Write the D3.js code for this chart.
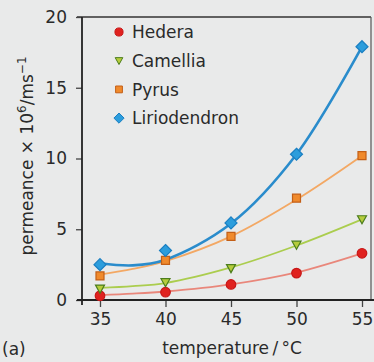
<!DOCTYPE html>
<html>
<head>
<meta charset="utf-8">
<script src="https://cdn.jsdelivr.net/npm/d3@7/dist/d3.min.js"></script>
<style>
  html, body { margin: 0; padding: 0; background: #e9eaea; }
  svg { display: block; }
  text { font-family: "DejaVu Sans", sans-serif; fill: #2a2a2a; }
</style>
</head>
<body>
<div id="chart"></div>
<script>
// measured points
var temps = [35, 40, 45, 50, 55];
var hedera = [0.3, 0.55, 1.1, 1.9, 3.3];
var camellia = [0.8, 1.25, 2.25, 3.9, 5.7];
var pyrus = [1.7, 2.8, 4.5, 7.2, 10.2];
var liriodendron = [2.5, 3.5, 5.45, 10.3, 17.9];

// fitted curves
var fitTemps = [35, 37.5, 40, 45, 50, 55];
var hederaFit = [0.35, 0.45, 0.6, 1.1, 1.95, 3.3];
var camelliaFit = [0.85, 0.98, 1.2, 2.3, 3.85, 5.7];
var pyrusFit = [1.8, 2.2, 2.75, 4.5, 7.1, 10.2];
var liriodendronFit = [2.6, 2.45, 2.85, 5.4, 10.3, 17.9];

var yTicks = [0, 5, 10, 15, 20];
var xTicks = [35, 40, 45, 50, 55];

var series = [
  { name: 'Hedera', values: hedera, fit: hederaFit, symbol: 'circle', fill: '#e0221f', stroke: '#c81818', line: '#e9877b', lw: 1.8 },
  { name: 'Camellia', values: camellia, fit: camelliaFit, symbol: 'tri', fill: '#b6cc3c', stroke: '#4b7d1c', line: '#abcd4e', lw: 1.8 },
  { name: 'Pyrus', values: pyrus, fit: pyrusFit, symbol: 'square', fill: '#f08a2c', stroke: '#c35f17', line: '#f3a864', lw: 1.8 },
  { name: 'Liriodendron', values: liriodendron, fit: liriodendronFit, symbol: 'diamond', fill: '#2c9ddc', stroke: '#1a7fc2', line: '#2a8ccc', lw: 2.6 }
];

var W = 374, H = 362;
var svg = d3.select('#chart').append('svg').attr('width', W).attr('height', H);

var x = d3.scaleLinear().domain([35, 55]).range([100, 362]);
var y = d3.scaleLinear().domain([0, 20]).range([300, 17]);
var left = 82, right = 371;

function symbolPath(kind, k) {
  k = k || 1;
  if (kind === 'circle') return d3.symbol(d3.symbolCircle, 72 * k * k)();
  if (kind === 'square') return d3.symbol(d3.symbolSquare, 64 * k * k)();
  if (kind === 'diamond') { var a = 6 * k; return 'M0,' + (-a) + 'L' + a + ',0L0,' + a + 'L' + (-a) + ',0Z'; }
  var t = 4.5 * k;
  return 'M' + (-t) + ',' + (-t * 0.8) + 'L' + t + ',' + (-t * 0.8) + 'L0,' + t + 'Z';
}

// frame
svg.append('line').attr('x1', 77).attr('x2', right).attr('y1', y(20)).attr('y2', y(20))
  .attr('stroke', '#333').attr('stroke-width', 1.5);
svg.append('line').attr('x1', right).attr('x2', right).attr('y1', y(20)).attr('y2', y(0))
  .attr('stroke', '#555').attr('stroke-width', 1.2);

// y axis
var yAxis = d3.axisLeft(y).tickValues(yTicks).tickSize(6).tickPadding(9).tickFormat(d3.format('d'));
var gy = svg.append('g').attr('transform', 'translate(' + left + ',0)').call(yAxis);
gy.select('.domain').remove();
gy.append('line').attr('x1', 0).attr('x2', 0).attr('y1', y(20)).attr('y2', y(0) + 5)
  .attr('stroke', '#222').attr('stroke-width', 1.8);
gy.selectAll('.tick line').attr('stroke', '#444').attr('stroke-width', 1.3);
gy.selectAll('.tick text').attr('font-size', 17).attr('font-family', 'DejaVu Sans').attr('fill', '#2a2a2a');

// x axis
var xAxis = d3.axisBottom(x).tickValues(xTicks).tickSize(7).tickPadding(6).tickFormat(d3.format('d'));
var gx = svg.append('g').attr('transform', 'translate(0,' + y(0) + ')').call(xAxis);
gx.select('.domain').remove();
gx.append('line').attr('x1', 77).attr('x2', W).attr('y1', 0).attr('y2', 0)
  .attr('stroke', '#222').attr('stroke-width', 1.8);
gx.selectAll('.tick line').attr('stroke', '#444').attr('stroke-width', 1.3);
gx.selectAll('.tick text').attr('font-size', 17).attr('font-family', 'DejaVu Sans').attr('fill', '#2a2a2a');

// curves
var line = d3.line().x(function(d) { return x(d[0]); }).y(function(d) { return y(d[1]); })
  .curve(d3.curveCatmullRom.alpha(0.5));
var gLines = svg.append('g');
series.forEach(function(s) {
  gLines.append('path')
    .attr('d', line(fitTemps.map(function(t, i) { return [t, s.fit[i]]; })))
    .attr('fill', 'none').attr('stroke', s.line).attr('stroke-width', s.lw);
});

// markers
series.forEach(function(s) {
  svg.append('g').selectAll('path').data(s.values).join('path')
    .attr('transform', function(d, i) { return 'translate(' + x(temps[i]) + ',' + y(d) + ')'; })
    .attr('d', symbolPath(s.symbol))
    .attr('fill', s.fill).attr('stroke', s.stroke).attr('stroke-width', 1.2);
});

// legend
var lg = svg.append('g');
series.forEach(function(s, i) {
  var ly = 32 + i * 28.7;
  lg.append('path').attr('transform', 'translate(119,' + ly + ')')
    .attr('d', symbolPath(s.symbol, 0.85)).attr('fill', s.fill).attr('stroke', s.stroke).attr('stroke-width', 1);
  lg.append('text').attr('x', 132).attr('y', ly).attr('dy', '0.36em')
    .attr('font-size', 17).text(s.name);
});

// axis titles
var yt = svg.append('text').attr('transform', 'translate(33,156) rotate(-90)')
  .attr('text-anchor', 'middle').attr('font-size', 17);
yt.append('tspan').text('permeance \u00d7 10');
yt.append('tspan').attr('font-size', 12).attr('dy', -7).text('6');
yt.append('tspan').attr('dy', 7).text('/ms');
yt.append('tspan').attr('font-size', 12).attr('dy', -7).text('\u22121');

svg.append('text').attr('x', 232).attr('y', 354).attr('text-anchor', 'middle')
  .attr('font-size', 17).text('temperature\u2009/\u2009\u00b0C');
svg.append('text').attr('x', 2).attr('y', 355).attr('font-size', 17).text('(a)');
</script>
</body>
</html>
